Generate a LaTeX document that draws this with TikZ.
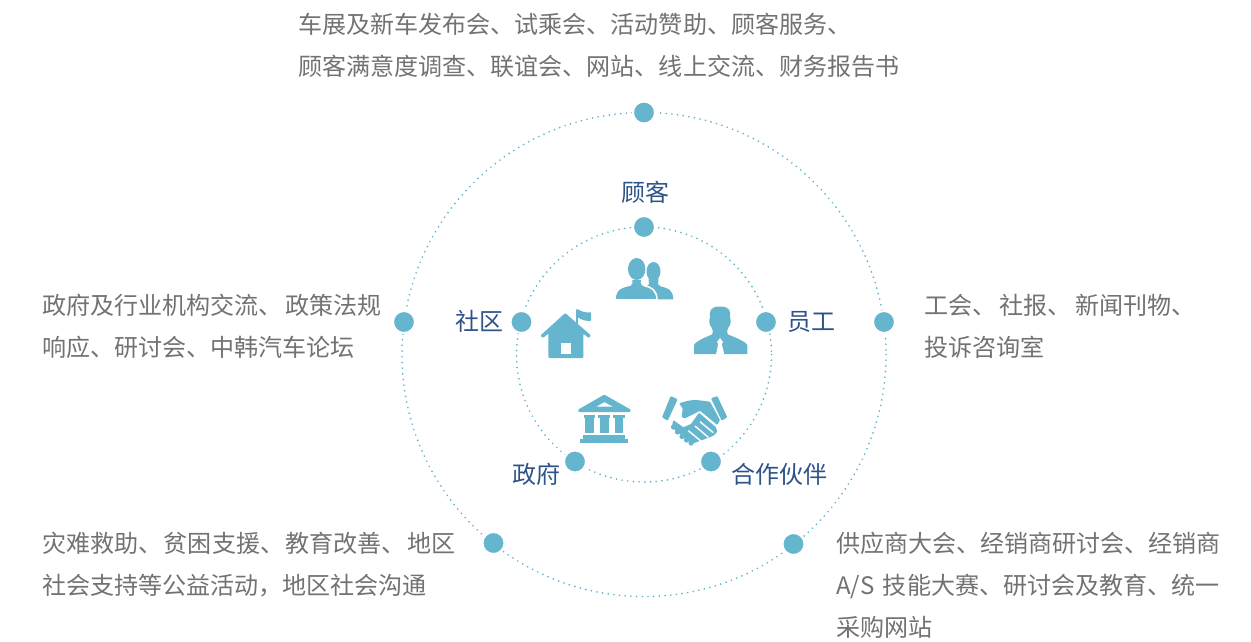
\documentclass[tikz,border=0pt]{standalone}
\usepackage{fontspec}
\setmainfont{Noto Sans CJK SC}
\definecolor{dotblue}{HTML}{66B5CF}
\definecolor{txtgray}{HTML}{727272}
\definecolor{lblblue}{HTML}{2F5389}
\newcommand{\cm}[1]{、\hspace{#1pt}}
\tikzset{
  ring/.style={draw=dotblue,line width=1.9pt,line cap=round,dash pattern=on 0pt off 5.7pt},
  dotnode/.style={circle,fill=dotblue,draw=white,line width=2pt,inner sep=0pt,minimum size=22pt},
  body/.style={anchor=base west,inner sep=0pt,text=txtgray,font=\fontsize{24.05}{25}\selectfont},
  lbl/.style={anchor=base,inner sep=0pt,text=lblblue,font=\fontsize{24}{25}\selectfont},
  icon/.style={fill=dotblue,draw=none},
  cut/.style={fill=white,draw=none},
  fingers/.style={draw=white,line width=1.4pt}
}
\begin{document}
\begin{tikzpicture}[x=1pt,y=-1pt]
\useasboundingbox (0,0) rectangle (1251,641);
\coordinate (c) at (644,354.5);
\draw[ring] (c) circle[radius=242];
\draw[ring] (c) circle[radius=127.5];
% outer dots
\node[dotnode] (o1) at (644,112.5) {};
\node[dotnode] (o2) at (404,322) {};
\node[dotnode] (o3) at (884,322) {};
\node[dotnode] (o4) at (493.5,543) {};
\node[dotnode] (o5) at (793.5,544) {};
% inner dots
\node[dotnode] (i1) at (644,227) {};
\node[dotnode] (i2) at (521.5,322) {};
\node[dotnode] (i3) at (766,322) {};
\node[dotnode] (i4) at (575,461.5) {};
\node[dotnode] (i5) at (711,461.5) {};
% labels
\node[lbl] (l1) at (645.5,201) {顾客};
\node[lbl] (l2) at (479,330) {社区};
\node[lbl] (l3) at (811,330) {员工};
\node[lbl] (l4) at (536,483) {政府};
\node[lbl] (l5) at (779,483) {合作伙伴};
% body text
\node[body] (t1) at (298,33.5) {车展及新车发布会、试乘会、活动赞助、顾客服务、};
\node[body] (t2) at (298,75.5) {顾客满意度调查、联谊会、网站、线上交流、财务报告书};
\node[body] (t3) at (42,314) {政府及行业机构交流\cm{3}政策法规};
\node[body] (t4) at (42,356) {响应、研讨会、中韩汽车论坛};
\node[body] (t5) at (924,314) {工会\cm{3.5}社报\cm{3.5}新闻刊物、};
\node[body] (t6) at (924,356) {投诉咨询室};
\node[body] (t7) at (42,552) {灾难救助\cm{1.5}贫困支援\cm{1.5}教育改善\cm{1.5}地区};
\node[body] (t8) at (42,594) {社会支持等公益活动，地区社会沟通};
\node[body] (t9) at (836,552) {供应商大会、经销商研讨会、经销商};
\node[body] (t10) at (836,594.5) {A/S\hspace{3pt} 技能大赛、研讨会及教育、统一};
\node[body] (t11) at (836,636.5) {采购网站};
% icon: customers
\fill[icon] (646.7,299.3) -- (646.7,286) .. controls (650,285) and (649,282) .. (648.5,279) -- (658.5,279) .. controls (658,282) and (657,285) .. (661,286.5) .. controls (667,288) and (673,289) .. (673.3,299.3) -- cycle;
\fill[icon] (653.5,271.5) ellipse[x radius=7,y radius=9.5];
\fill[icon,draw=white,line width=1.6pt] (615,299.8) .. controls (615,288) and (622,287) .. (630,285) .. controls (632,284) and (632,282) .. (631.5,279) -- (642,279) .. controls (641.5,282) and (641,284) .. (644,285.5) .. controls (651,287) and (657,290) .. (657,299.8) -- cycle;
\fill[icon] (636.7,269) ellipse[x radius=8.7,y radius=11];
% icon: employee
\fill[icon] (694,354) -- (694,345) .. controls (696,341) and (706,337) .. (712,334.5) .. controls (713.5,333) and (713,331) .. (712,328) .. controls (709,325) and (708.5,320) .. (710,318) .. controls (709,310) and (711,306.5) .. (720,306.5) .. controls (729,306.5) and (731,310) .. (730,318) .. controls (731.5,320) and (731,325) .. (728,328) .. controls (727,331) and (726.5,333) .. (728,334.5) .. controls (734,337) and (745,341) .. (747.3,345) -- (747.3,354) -- cycle;
\fill[cut] (720,338) -- (723,342) -- (721.8,344) -- (724.3,354.5) -- (716,354.5) -- (718.2,344) -- (717,342) -- cycle;
% icon: community
\fill[icon,rounded corners=1pt] (565.2,313) -- (591,335.5) -- (588.5,338) -- (583.3,333.5) -- (583.3,358) -- (548.3,358) -- (548.3,333.5) -- (543,338) -- (540.5,335.5) -- cycle;
\fill[cut] (560.7,343.3) rectangle (570.7,354.3);
\fill[icon] (576,325) -- (576,309.3) -- (577.8,309.3) .. controls (582,312) and (587,313) .. (591,312.3) -- (591,320.7) .. controls (587,321.5) and (582,320) .. (577.8,317.5) -- (577.8,325) -- cycle;
% icon: government
\fill[icon,rounded corners=0.8pt] (604.3,394.6) -- (630.5,409.5) -- (630.5,412) -- (578.3,412) -- (578.3,409.5) -- cycle;
\fill[cut] (596.7,406.6) -- (604.3,402.2) -- (612.7,406.6) -- cycle;
\foreach \cx in {589.5,604.2,619} {
  \fill[icon] (\cx-5.8,414.7) rectangle (\cx+5.8,418);
  \fill[icon] (\cx-4.4,418) rectangle (\cx+4.4,433);
}
\fill[icon] (583,435) rectangle (625,438.5);
\fill[icon] (580,438.5) rectangle (628.3,442.5);
% icon: partner
\fill[icon,rounded corners=1pt] (670.7,396) -- (677.7,399.3) -- (667.7,420.7) -- (662,417.3) -- cycle;
\fill[icon,rounded corners=1pt] (711,398.3) -- (717.3,396) -- (727.3,417.3) -- (721.7,420.7) -- cycle;
\fill[icon,rounded corners=1pt] (679,403.3) .. controls (686,401) and (691,400) .. (696.7,400) -- (710,401.7) -- (720,420) -- (717.3,425) -- (700,410.7) -- (691.7,415) -- (685,418.3) -- (681.7,417.3) -- (682.7,408.3) -- cycle;
\fill[icon,rounded corners=1pt] (673.3,420) -- (683.3,427.3) -- (691,424) -- (699,412.7) -- (716,427.3) -- (717.3,431.7) -- (713,436) -- (691.7,444) -- (671.7,427.3) -- cycle;
\foreach \kx/\ky in {673.5/427,677.5/432,682/436.5,686.5/440,691/443} {
  \fill[icon] (\kx,\ky) circle[radius=2.6];
}
\draw[fingers] (695,426) -- (708.3,437.3);
\draw[fingers] (700,421.7) -- (713.3,432.7);
\draw[fingers] (688.3,430.7) -- (701.7,441.7);
\end{tikzpicture}
\end{document}
